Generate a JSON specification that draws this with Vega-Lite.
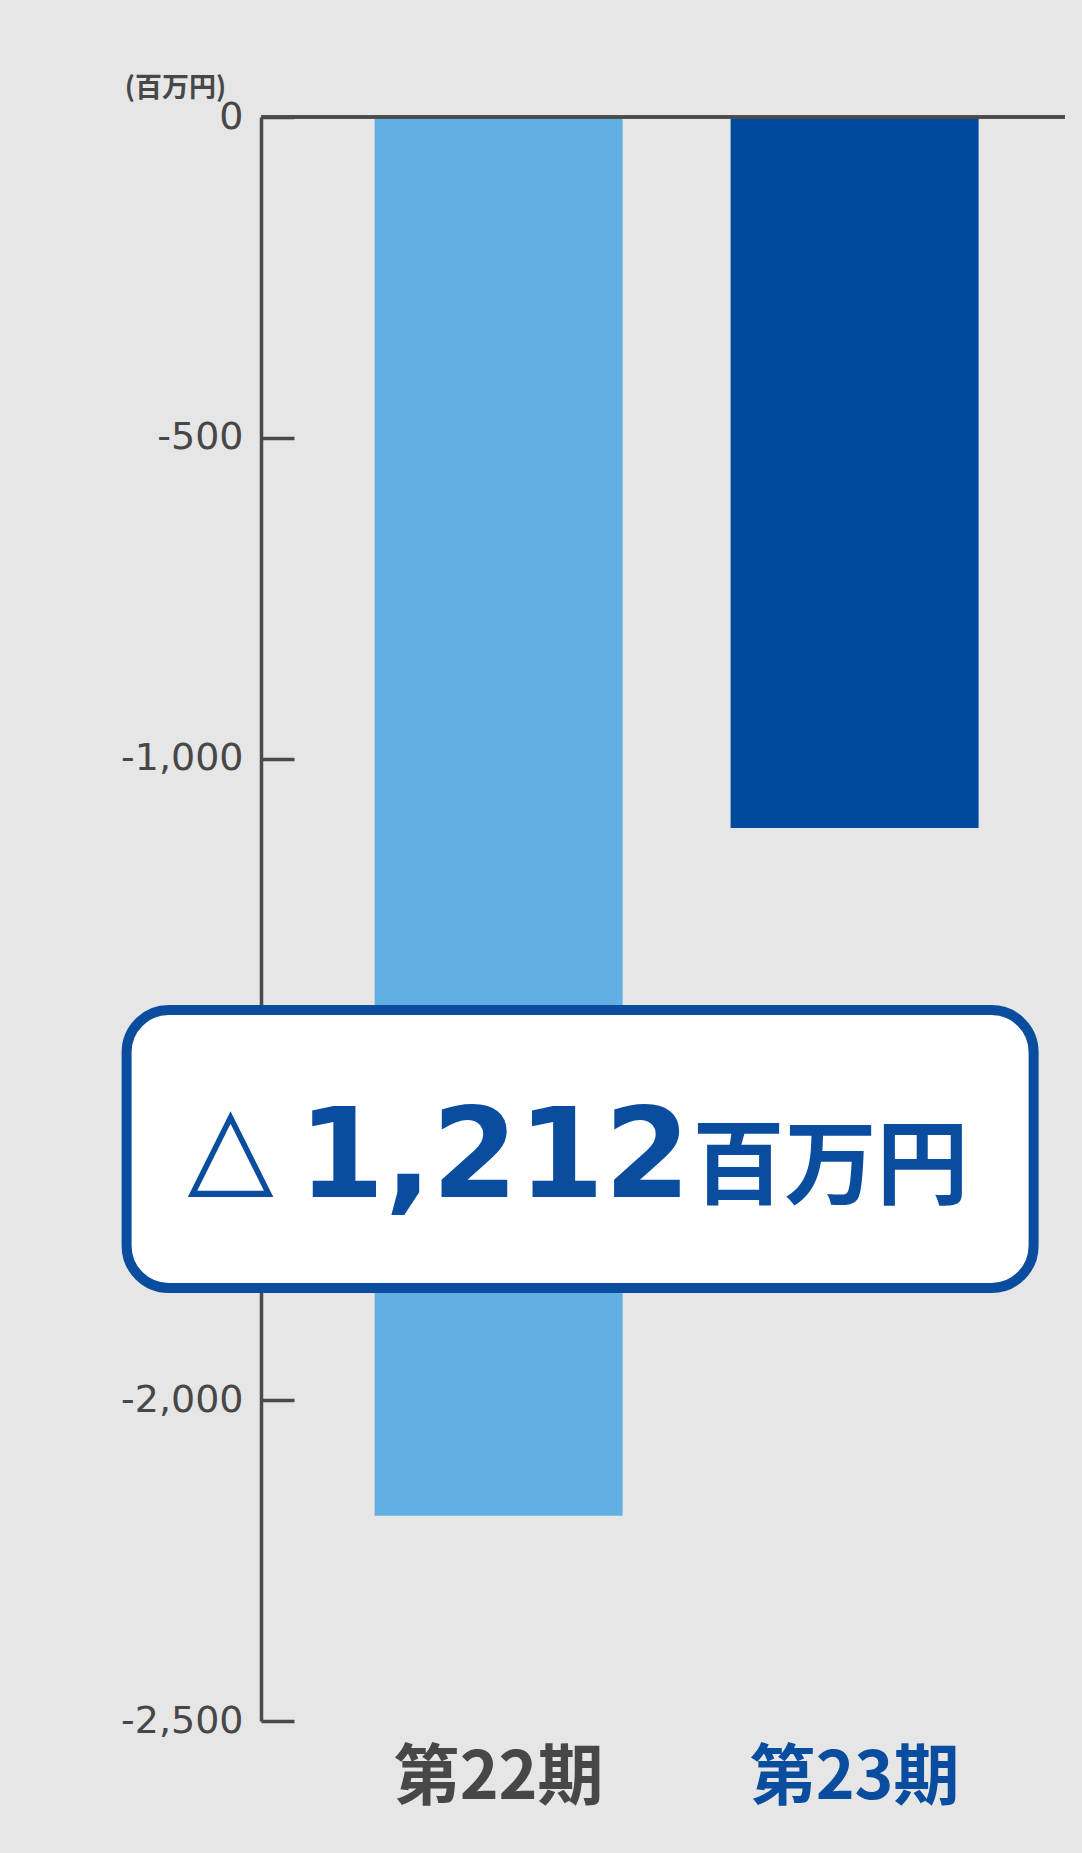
{
  "$schema": "https://vega.github.io/schema/vega-lite/v6.json",
  "width": 804,
  "height": 1604,
  "autosize": {"type": "none"},
  "padding": {"left": 261, "top": 117, "right": 17, "bottom": 132},
  "background": "#e6e6e6",
  "config": {"view": {"stroke": null}},
  "data": {"values": [
    {"period": "第22期", "value": -2180},
    {"period": "第23期", "value": -1108}
  ]},
  "layer": [
    {
      "mark": {"type": "bar"},
      "encoding": {
        "x": {
          "field": "period", "type": "nominal", "sort": null,
          "scale": {"paddingInner": 0.3034, "paddingOuter": 0.2809, "align": 0.568},
          "axis": {
            "title": null, "domain": false, "ticks": false, "labelAngle": 0,
            "labelFont": "Noto Sans CJK JP", "labelFontWeight": "bold", "labelFontSize": 66,
            "labelPadding": 25, "labelLimit": 500,
            "labelColor": {"condition": {"test": "datum.value === '第23期'", "value": "#0a4d9e"}, "value": "#474747"}
          }
        },
        "y": {
          "field": "value", "type": "quantitative",
          "scale": {"domain": [-2500, 0], "nice": false},
          "axis": {
            "title": "(百万円)", "titleAngle": 0, "titleFont": "Noto Sans CJK JP", "titleFontWeight": "bold",
            "titleFontSize": 27, "titleColor": "#474747", "titleX": -86, "titleY": -29,
            "titleAlign": "center", "titleBaseline": "middle",
            "values": [0, -500, -1000, -1500, -2000, -2500],
            "labelExpr": "replace(format(datum.value, ','), '−', '-')",
            "labelFont": "DejaVu Sans", "labelFontSize": 38, "labelColor": "#474747",
            "labelPadding": 51, "labelOverlap": false, "labelLimit": 300,
            "tickSize": -33, "tickWidth": 3.5, "tickColor": "#4a4a4a",
            "domainColor": "#4a4a4a", "domainWidth": 3.5, "grid": false
          }
        },
        "color": {
          "field": "period", "type": "nominal",
          "scale": {"domain": ["第22期", "第23期"], "range": ["#62b0e3", "#004a9e"]},
          "legend": null
        }
      }
    },
    {
      "mark": {"type": "rule", "color": "#4a4a4a", "strokeWidth": 3.5},
      "encoding": {"y": {"datum": 0}}
    },
    {
      "data": {"values": [{"sign": "△", "amount": "1,212", "unit": "百万円"}]},
      "mark": {"type": "rect", "fill": "#ffffff", "stroke": "#0a4d9e", "strokeWidth": 10, "cornerRadius": 42, "xOffset": -248, "x2Offset": 55},
      "encoding": {
        "x": {"datum": "第22期", "bandPosition": 0},
        "x2": {"datum": "第23期", "bandPosition": 1},
        "y": {"datum": -1392},
        "y2": {"datum": -1825}
      }
    },
    {
      "data": {"values": [{"sign": "△", "amount": "1,212", "unit": "百万円"}]},
      "mark": {"type": "text", "font": "DejaVu Sans", "fontSize": 112, "color": "#0a4d9e", "align": "right", "baseline": "alphabetic", "dx": -349},
      "encoding": {
        "x": {"datum": "第22期", "bandPosition": 1},
        "y": {"datum": -1662},
        "text": {"field": "sign"}
      }
    },
    {
      "data": {"values": [{"sign": "△", "amount": "1,212", "unit": "百万円"}]},
      "mark": {"type": "text", "font": "DejaVu Sans", "fontWeight": "bold", "fontSize": 124, "color": "#0a4d9e", "align": "right", "baseline": "alphabetic", "dx": 68},
      "encoding": {
        "x": {"datum": "第22期", "bandPosition": 1},
        "y": {"datum": -1684},
        "text": {"field": "amount"}
      }
    },
    {
      "data": {"values": [{"sign": "△", "amount": "1,212", "unit": "百万円"}]},
      "mark": {"type": "text", "font": "Noto Sans CJK JP", "fontWeight": "bold", "fontSize": 92, "color": "#0a4d9e", "align": "left", "baseline": "alphabetic", "dx": 70},
      "encoding": {
        "x": {"datum": "第22期", "bandPosition": 1},
        "y": {"datum": -1684},
        "text": {"field": "unit"}
      }
    }
  ]
}
